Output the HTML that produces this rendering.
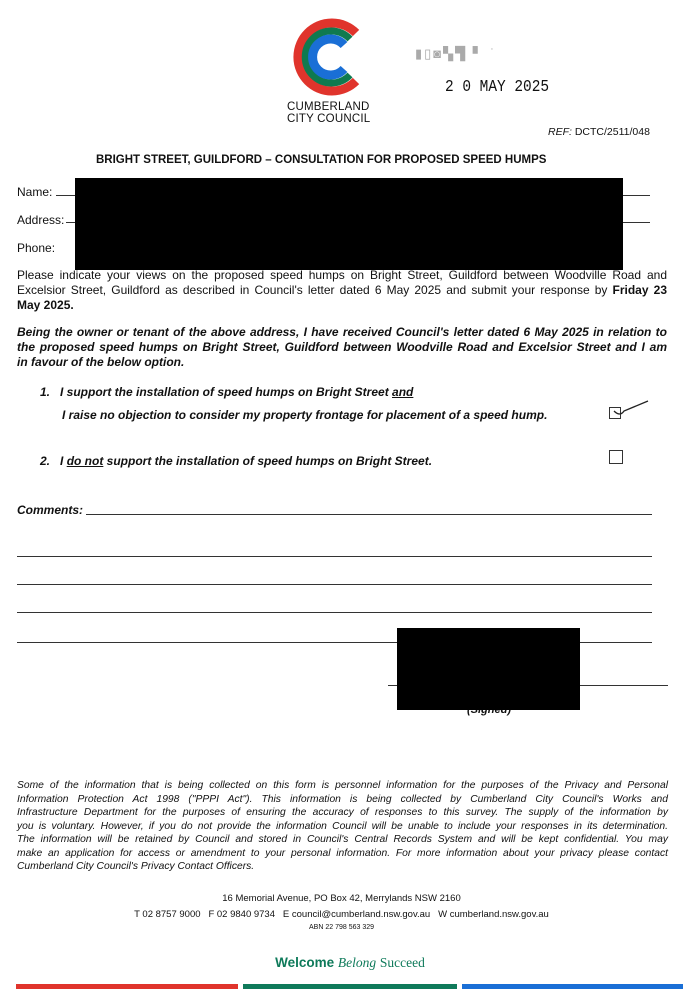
<!DOCTYPE html>
<html><head><meta charset="utf-8"><style>
body{margin:0;width:683px;height:989px;background:#fff;position:relative;overflow:hidden;font-family:"Liberation Sans",Arial,sans-serif;color:#111}
.a{position:absolute;white-space:nowrap}
.l{position:absolute;height:1px;background:#333}
.jl{position:absolute;text-align:justify;text-align-last:justify;white-space:nowrap;overflow:visible}
</style></head><body>
<svg class="a" style="left:290px;top:17px" width="80" height="80" viewBox="0 0 80 80">
<path d="M66 16 A34 34 0 1 0 66 64" stroke="#e0342c" stroke-width="9" fill="none"/>
<path d="M60 22 A26 26 0 1 0 60 58" stroke="#0f7a4f" stroke-width="7" fill="none"/>
<path d="M54 28 A18 18 0 1 0 54 52" stroke="#1a6fd6" stroke-width="9" fill="none"/>
</svg>
<div class="a" style="left:287px;top:101px;font-size:11.5px;line-height:12px;letter-spacing:0.2px">CUMBERLAND<br>CITY COUNCIL</div>
<div class="a" style="left:415px;top:46px;font-size:13px;color:#aaa;letter-spacing:2px">▮▯◙▚▜ ▘ ˙</div>
<div class="a" style="left:445px;top:78px;font-size:17px;font-family:'Liberation Mono',monospace;transform:scaleX(0.85);transform-origin:left">2 0 MAY 2025</div>
<div class="a" style="left:548px;top:126px;font-size:10.5px"><i>REF:</i> DCTC/2511/048</div>
<div class="a" style="left:96px;top:154px;font-size:11.5px;font-weight:bold">BRIGHT STREET, GUILDFORD – CONSULTATION FOR PROPOSED SPEED HUMPS</div>
<div class="a" style="left:17px;top:185px;font-size:12px">Name:</div>
<div class="l" style="left:56px;top:195px;width:594px"></div>
<div class="a" style="left:17px;top:213px;font-size:12px">Address:</div>
<div class="l" style="left:66px;top:222px;width:584px"></div>
<div class="a" style="left:17px;top:241px;font-size:12px">Phone:</div>
<div class="a" style="left:75px;top:178px;width:548px;height:92px;background:#000"></div>
<div style="position:absolute;left:17px;top:268px;width:650px;font-size:12px;line-height:15px">
<div class="jl" style="position:relative">Please indicate your views on the proposed speed humps on Bright Street, Guildford between Woodville Road and</div>
<div class="jl" style="position:relative">Excelsior Street, Guildford as described in Council's letter dated 6 May 2025 and submit your response by <b>Friday 23</b></div>
<div style="font-weight:bold">May 2025.</div></div>
<div style="position:absolute;left:17px;top:325px;width:650px;font-size:12px;line-height:15px;font-weight:bold;font-style:italic">
<div class="jl" style="position:relative">Being the owner or tenant of the above address, I have received Council's letter dated 6 May 2025 in relation to</div>
<div class="jl" style="position:relative">the proposed speed humps on Bright Street, Guildford between Woodville Road and Excelsior Street and I am</div>
<div>in favour of the below option.</div></div>
<div class="a" style="left:40px;top:385px;font-size:12px;font-weight:bold;font-style:italic">1.&nbsp;&nbsp;&nbsp;I support the installation of speed humps on Bright Street <u>and</u></div>
<div class="a" style="left:62px;top:408px;font-size:12px;font-weight:bold;font-style:italic">I raise no objection to consider my property frontage for placement of a speed hump.</div>
<div class="a" style="left:609px;top:407px;width:10px;height:10px;border:1px solid #333"></div>
<svg class="a" style="left:612px;top:399px" width="40" height="20"><path d="M2 12 Q8 18 12 12 L36 2" stroke="#222" stroke-width="1.3" fill="none"/></svg>
<div class="a" style="left:40px;top:454px;font-size:12px;font-weight:bold;font-style:italic">2.&nbsp;&nbsp;&nbsp;I <u>do not</u> support the installation of speed humps on Bright Street.</div>
<div class="a" style="left:609px;top:450px;width:12px;height:12px;border:1px solid #333"></div>
<div class="a" style="left:17px;top:503px;font-size:12px;font-weight:bold;font-style:italic">Comments:</div>
<div class="l" style="left:86px;top:514px;width:566px"></div>
<div class="l" style="left:17px;top:556px;width:635px"></div>
<div class="l" style="left:17px;top:584px;width:635px"></div>
<div class="l" style="left:17px;top:612px;width:635px"></div>
<div class="l" style="left:17px;top:642px;width:635px"></div>
<div class="l" style="left:388px;top:685px;width:280px"></div>
<div class="a" style="left:467px;top:704px;font-size:11px;font-weight:bold;font-style:italic">(Signed)</div>
<div class="a" style="left:397px;top:628px;width:183px;height:82px;background:#000"></div>
<div style="position:absolute;left:17px;top:779px;width:651px;font-size:10.3px;line-height:13.5px;font-style:italic">
<div class="jl" style="position:relative">Some of the information that is being collected on this form is personnel information for the purposes of the Privacy and Personal</div>
<div class="jl" style="position:relative">Information Protection Act 1998 ("PPPI Act"). This information is being collected by Cumberland City Council's Works and</div>
<div class="jl" style="position:relative">Infrastructure Department for the purposes of ensuring the accuracy of responses to this survey. The supply of the information by</div>
<div class="jl" style="position:relative">you is voluntary. However, if you do not provide the information Council will be unable to include your responses in its determination.</div>
<div class="jl" style="position:relative">The information will be retained by Council and stored in Council's Central Records System and will be kept confidential. You may</div>
<div class="jl" style="position:relative">make an application for access or amendment to your personal information. For more information about your privacy please contact</div>
<div>Cumberland City Council's Privacy Contact Officers.</div></div>
<div class="a" style="left:0;width:683px;text-align:center;top:893px;font-size:9.5px">16 Memorial Avenue, PO Box 42, Merrylands NSW 2160</div>
<div class="a" style="left:0;width:683px;text-align:center;top:909px;font-size:9.5px">T 02 8757 9000 &nbsp;&nbsp;F 02 9840 9734 &nbsp;&nbsp;E council@cumberland.nsw.gov.au &nbsp;&nbsp;W cumberland.nsw.gov.au</div>
<div class="a" style="left:0;width:683px;text-align:center;top:924px;font-size:7px">ABN 22 798 563 329</div>
<div class="a" style="left:0;width:700px;text-align:center;top:955px;font-size:13.5px;color:#0e7a5a"><b>Welcome</b> <i style="font-family:'Liberation Serif',serif">Belong</i> <span style="font-family:'Liberation Serif',serif">Succeed</span></div>
<div class="a" style="left:16px;top:984px;width:222px;height:5px;background:#e0342c"></div>
<div class="a" style="left:243px;top:984px;width:214px;height:5px;background:#0f7a5a"></div>
<div class="a" style="left:462px;top:984px;width:221px;height:5px;background:#1a6fd6"></div>
</body></html>
